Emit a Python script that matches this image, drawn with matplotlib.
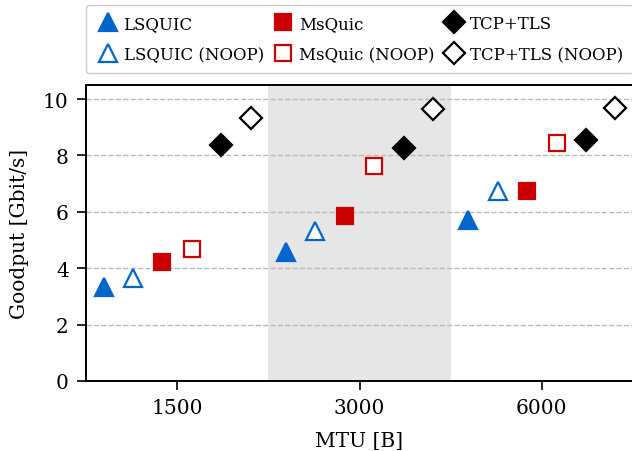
import matplotlib
matplotlib.use("Agg")
import matplotlib.pyplot as plt
import numpy as np

plt.rcParams['font.family'] = 'serif'
plt.rcParams['font.serif'] = ['DejaVu Serif']
plt.rcParams['font.size'] = 14.5

# data
mtu = ['1500', '3000', '6000']
labels = ['LSQUIC', 'LSQUIC (NOOP)', 'MsQuic', 'MsQuic (NOOP)', 'TCP+TLS', 'TCP+TLS (NOOP)']
lsquic = [3.32, 4.57, 5.70]
lsquic_noop = [3.64, 5.31, 6.73]
msquic = [4.21, 5.84, 6.73]
msquic_noop = [4.67, 7.62, 8.43]
tcp = [8.36, 8.26, 8.54]
tcp_noop = [9.32, 9.64, 9.68]

series = [lsquic, lsquic_noop, msquic, msquic_noop, tcp, tcp_noop]
blue = '#0066cc'
red = '#cc0000'
styles = [
    dict(marker='^', color=blue, mfc=blue),
    dict(marker='^', color=blue, mfc='white'),
    dict(marker='s', color=red, mfc=red),
    dict(marker='s', color=red, mfc='white'),
    dict(marker='D', color='black', mfc='black'),
    dict(marker='D', color='black', mfc='white'),
]
sizes = [13, 13, 12, 12, 11.5, 11.5]

fig = plt.figure(figsize=(6.32, 4.52), dpi=100)
ax = fig.add_axes([86 / 632, 70 / 452, 547 / 632, 296 / 452])

x = np.arange(len(mtu))
step = 0.161
for i, (vals, st) in enumerate(zip(series, styles)):
    off = (i - 2.5) * step
    ax.plot(x + off, vals, linestyle='none', marker=st['marker'], color=st['color'],
            mfc=st['mfc'], mec=st['color'], markersize=sizes[i], mew=1.6,
            label=labels[i], zorder=3)

ax.axvspan(0.5, 1.5, color='#e6e6e6', zorder=0, lw=0)
ax.set_xlim(-0.5, 2.5)
ax.set_ylim(0, 10.5)
ax.set_xticks(x)
ax.set_xticklabels(mtu)
ax.set_yticks([0, 2, 4, 6, 8, 10])
ax.yaxis.grid(True, linestyle='--', color='#bbbbbb', linewidth=1.0, zorder=1)
ax.set_axisbelow(True)
for s in ax.spines.values():
    s.set_linewidth(1.4)
ax.tick_params(length=6.5, width=1.2, pad=6)
ax.set_xlabel('MTU [B]', labelpad=10)
ax.set_ylabel('Goodput [Gbit/s]', labelpad=10)

ax.legend(ncol=3, loc='lower left', bbox_to_anchor=(0, 1.04, 1, 0.2), mode='expand',
          borderaxespad=0, borderpad=0.6, labelspacing=0.85, handletextpad=0.25,
          columnspacing=0.3, handlelength=1.4,
          edgecolor='#cccccc', framealpha=1, fontsize=12)

fig.savefig('out.png', dpi=100)
